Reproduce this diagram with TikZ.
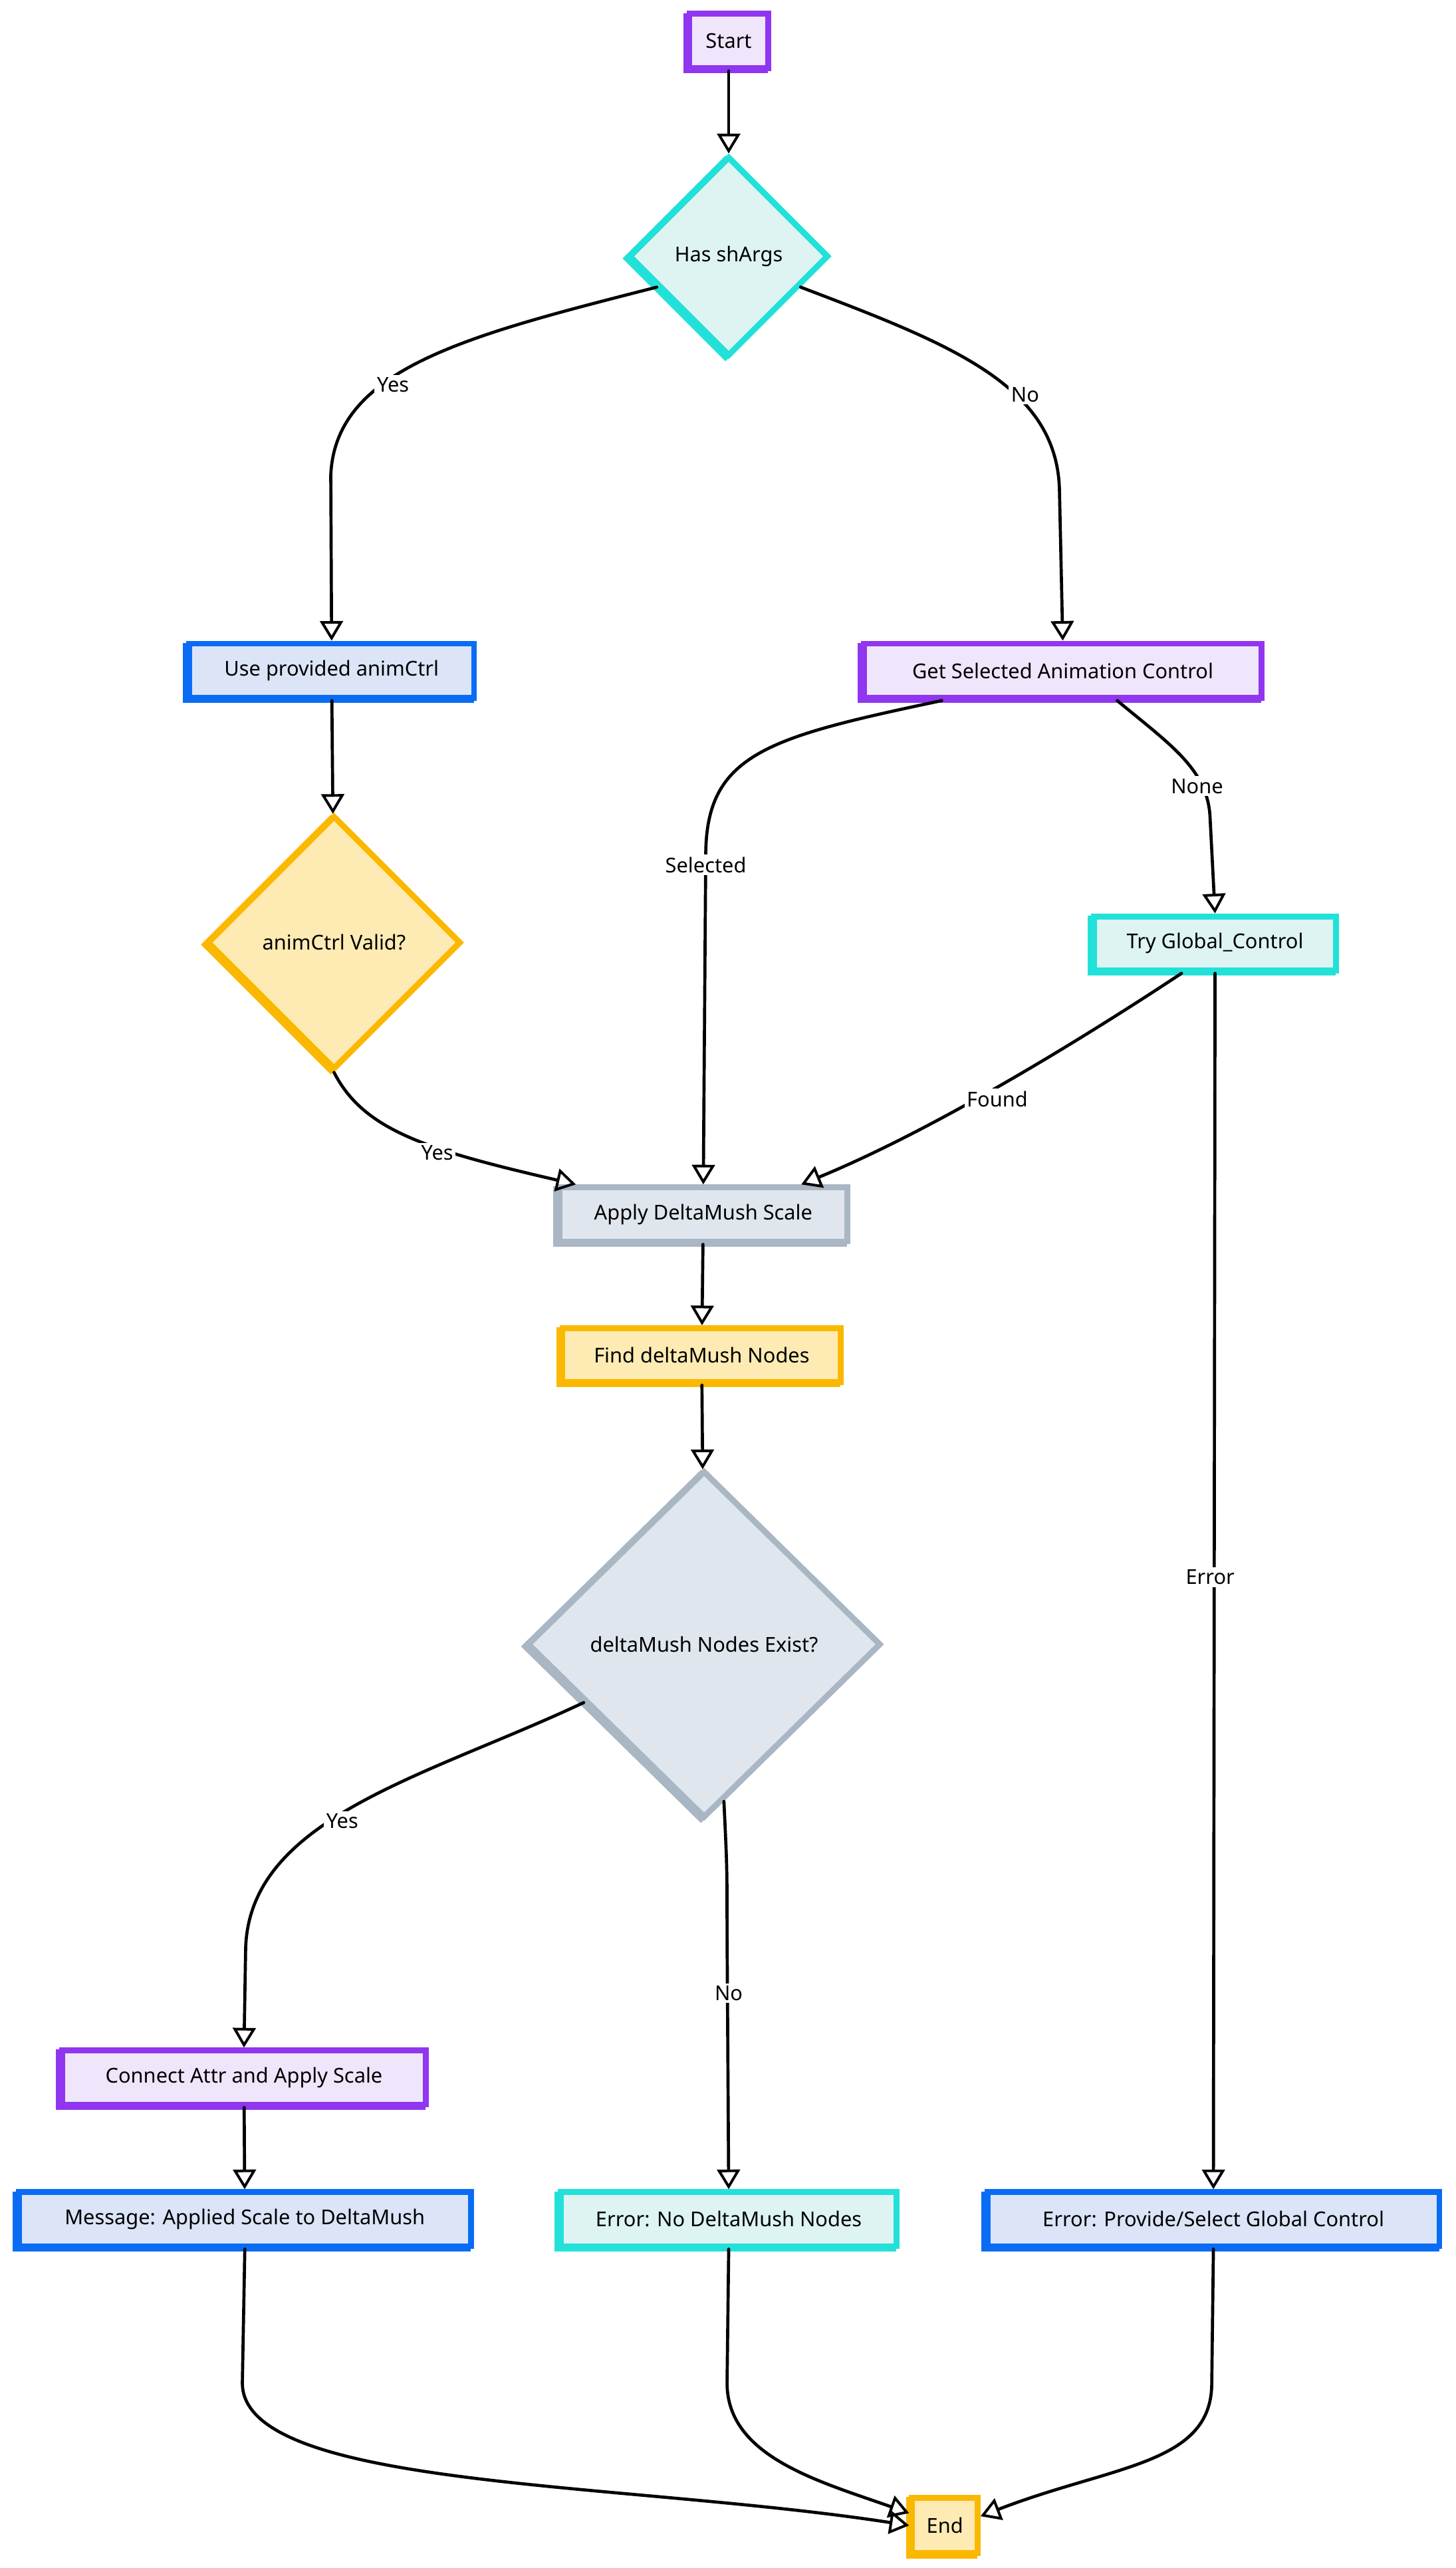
\documentclass[tikz,border=0pt]{standalone}
\usepackage{fontspec}
\setmainfont{Noto Sans}
\usetikzlibrary{arrows.meta,shapes.geometric,calc}
\definecolor{puB}{HTML}{9035F0}\definecolor{puF}{HTML}{EFE6FB}
\definecolor{cyB}{HTML}{22E1D9}\definecolor{cyF}{HTML}{DDF4F3}
\definecolor{blB}{HTML}{0A6CF5}\definecolor{blF}{HTML}{DBE5F7}
\definecolor{yeB}{HTML}{FBB800}\definecolor{yeF}{HTML}{FDEBB3}
\definecolor{grB}{HTML}{A9B6C3}\definecolor{grF}{HTML}{E0E6EE}
\tikzset{
  every node/.style={font=\fontsize{12.5}{15}\selectfont, text=black},
  sk/.style={preaction={draw=#1, line width=3.6pt, transform canvas={shift={(-2pt,-1.3pt)}}}},
  boxnode/.style={rectangle, line width=3.6pt, minimum height=33pt, inner sep=2pt},
  dia/.style={diamond, line width=3.6pt, inner sep=0pt, aspect=1},
  purple box/.style={draw=puB, fill=puF, sk=puB},
  cyan box/.style={draw=cyB, fill=cyF, sk=cyB},
  blue box/.style={draw=blB, fill=blF, sk=blB},
  yellow box/.style={draw=yeB, fill=yeF, sk=yeB},
  gray box/.style={draw=grB, fill=grF, sk=grB},
  arr/.style={draw=black, line width=1.9pt, line cap=round, line join=round,
    -{Triangle[open, length=12pt, width=14pt, line width=1.6pt]}},
  lab/.style={fill=white, inner sep=1.5pt}
}
\begin{document}
\begin{tikzpicture}[x=1pt,y=-1pt]
\useasboundingbox[fill=white] (0,0) rectangle (889,1568);

% nodes
\node[boxnode, purple box, minimum width=48pt] (start) at (445,25) {Start};
\node[dia, cyan box, minimum width=122pt, minimum height=122pt] (has) at (445,156.5) {Has shArgs};
\node[boxnode, blue box, minimum width=174pt] (use) at (202.5,409.5) {Use provided animCtrl};
\node[boxnode, purple box, minimum width=243pt] (get) at (649,409.5) {Get Selected Animation Control};
\node[dia, yellow box, minimum width=155pt, minimum height=155pt] (valid) at (204,575.5) {animCtrl Valid?};
\node[boxnode, cyan box, minimum width=148pt] (try) at (742,576) {Try Global\_Control};
\node[boxnode, gray box, minimum width=176pt] (apply) at (429.5,741.5) {Apply DeltaMush Scale};
\node[boxnode, yellow box, minimum width=170pt] (find) at (428.5,827.5) {Find deltaMush Nodes};
\node[dia, gray box, minimum width=216pt, minimum height=212pt] (exist) at (430,1004) {deltaMush Nodes Exist?};
\node[boxnode, purple box, minimum width=222pt] (connect) at (149,1268.5) {Connect Attr and Apply Scale};
\node[boxnode, blue box, minimum width=276pt] (message) at (149.5,1355) {Message: Applied Scale to DeltaMush};
\node[boxnode, cyan box, minimum width=205pt] (errno) at (445,1355) {Error: No DeltaMush Nodes};
\node[boxnode, blue box, minimum width=276pt] (errprov) at (741,1355) {Error: Provide/Select Global Control};
\node[boxnode, yellow box, minimum width=40pt, minimum height=34pt] (end) at (577,1542) {End};

% connectors
\draw[arr] (start) -- (has);
\draw[arr] ($(has.west)!0.3!(has.south)$) .. controls (285,205) and (205,225) .. (202,290) -- (use.north);
\draw[arr] ($(has.east)!0.3!(has.south)$) .. controls (580,210) and (646,235) .. (647,300) -- (get.north);
\draw[arr] (use) -- (valid);
\draw[arr] ($(get.south west)!0.2!(get.south east)$) .. controls (470,450) and (432,460) .. (431,520) -- (apply.north);
\draw[arr] ($(get.south)!0.27!(get.south east)$) .. controls (715,455) and (738,470) .. (739,500) -- (try.north);
\draw[arr] (valid.south) .. controls (222,690) and (260,702) .. ($(apply.north west)+(12,0)$);
\draw[arr] ($(try.south)!0.27!(try.south west)$) .. controls (660,635) and (570,690) .. ($(apply.north east)+(-30,0)$);
\draw[arr] (try.south) -- (errprov.north);
\draw[arr] (apply) -- (find);
\draw[arr] (find) -- (exist);
\draw[arr] ($(exist.west)!0.33!(exist.south)$) .. controls (260,1085) and (152,1110) .. (150,1190) -- (connect.north);
\draw[arr] ($(exist.south)!0.11!(exist.east)$) .. controls (444,1140) .. (444,1180) -- (errno.north);
\draw[arr] (connect) -- (message);
\draw[arr] (message.south) -- (148,1455) .. controls (148,1520) and (380,1515) .. (end.west);
\draw[arr] (errno.south) -- (444,1455) .. controls (444,1500) and (500,1515) .. ($(end.north west)!0.3!(end.south west)$);
\draw[arr] (errprov.south) -- (740,1455) .. controls (740,1505) and (680,1505) .. ($(end.north east)!0.35!(end.south east)$);

% labels
\node[lab] (l1) at (240,235) {Yes};
\node[lab] (l2) at (626,241) {No};
\node[lab] (l3) at (431,528) {Selected};
\node[lab] (l4) at (731,480) {None};
\node[lab] (l5) at (267,704) {Yes};
\node[lab] (l6) at (609,671) {Found};
\node[lab] (l7) at (739,963) {Error};
\node[lab] (l8) at (209,1112) {Yes};
\node[lab] (l9) at (445,1217) {No};
\end{tikzpicture}
\end{document}
